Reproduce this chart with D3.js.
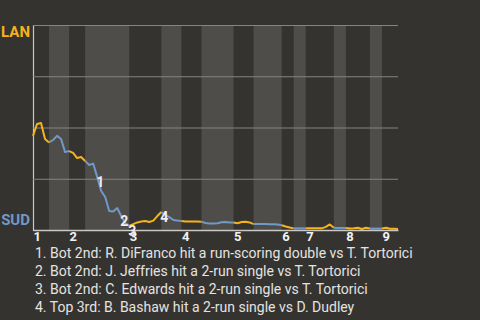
<!DOCTYPE html>
<html>
<head>
<meta charset="utf-8">
<script src="https://cdn.jsdelivr.net/npm/d3@7"></script>
<style>
  html, body { margin: 0; padding: 0; background: #353330; }
  svg { display: block; font-family: Roboto, "Noto Sans", sans-serif; }
</style>
</head>
<body>
<div id="chart"></div>
<script>
// plate appearances in each half inning (top 1st, bot 1st, ... top 9th)
const halfInnings = [4, 5, 4, 11, 8, 5, 5, 8, 5, 7, 3, 3, 7, 3, 6, 3, 4];
const inningLabels = ["1", "2", "3", "4", "5", "6", "7", "8", "9"];
const teams = ["LAN", "SUD"];

// LAN win probability (%) after each plate appearance, game start first
const lanWinPct = [
  45.9, 51.7, 52.2, 44.4, 42.7,
  43.9, 45.9, 44.4, 38.0, 38.5,
  37.6, 35.1, 35.6, 33.7,
  31.7, 32.4, 25.9, 19.0, 16.1, 9.3, 9.0, 10.7, 6.8, 3.4, 2.0,
  2.9, 3.7, 4.1, 4.4, 3.9, 4.6, 6.8, 8.8,
  7.3, 6.3, 4.9, 4.6, 4.4,
  4.1, 4.1, 4.1, 4.1, 4.0,
  3.4, 3.2, 3.2, 3.3, 3.8, 3.9, 3.7, 3.7,
  3.3, 3.9, 4.0, 3.7, 2.9,
  2.9, 2.9, 2.9, 2.8, 2.8, 2.7, 2.3,
  1.7, 1.2, 0.8,
  0.8, 0.8, 0.8,
  0.8, 0.8, 0.8, 0.8, 1.5, 2.7, 1.1,
  1.0, 1.0, 1.0,
  0.7, 0.8, 1.1, 0.5, 1.1, 0.7,
  0.7, 0.7, 0.7,
  1.1, 0.6, 0.6, 0.5
];

// key plays: plate appearance index and description
const noteEvents = [16, 22, 24, 32];
const noteTexts = [
  "Bot 2nd: R. DiFranco hit a run-scoring double vs T. Tortorici",
  "Bot 2nd: J. Jeffries hit a 2-run single vs T. Tortorici",
  "Bot 2nd: C. Edwards hit a 2-run single vs T. Tortorici",
  "Top 3rd: B. Bashaw hit a 2-run single vs D. Dudley"
];

const width = 480, height = 320;
const margin = { top: 25, right: 82, bottom: 90, left: 33 };
const colors = { lan: "#f6b21b", sud: "#7099c8", band: "#4e4d4a", grid: "#86847f", axis: "#c9c8c5", text: "#e4e3e0" };

const total = d3.sum(halfInnings);
const starts = [];
halfInnings.reduce((acc, n) => { starts.push(acc); return acc + n; }, 0);

const svg = d3.select("#chart").append("svg")
  .attr("width", width)
  .attr("height", height);

svg.append("rect").attr("width", width).attr("height", height).attr("fill", "#353330");

const x = d3.scaleLinear().domain([0, total]).range([margin.left, width - margin.right]);
const y = d3.scaleLinear().domain([0, 100]).range([height - margin.bottom, margin.top]);

// shaded bands for bottom halves
svg.append("g").selectAll("rect")
  .data(halfInnings.map((n, i) => ({ s: starts[i], e: starts[i] + n, bottom: i % 2 === 1 })).filter(d => d.bottom))
  .enter().append("rect")
  .attr("x", d => x(d.s))
  .attr("width", d => x(d.e) - x(d.s))
  .attr("y", y(100))
  .attr("height", y(0) - y(100))
  .attr("fill", colors.band);

// gridlines
const yAxis = svg.append("g")
  .attr("transform", `translate(${margin.left},0)`)
  .call(d3.axisLeft(y).tickValues([25, 50, 75, 100]).tickSize(-(width - margin.left - margin.right)).tickFormat(""));
yAxis.select(".domain").attr("stroke", colors.axis).attr("stroke-width", 1.2);
yAxis.selectAll(".tick line").attr("stroke", colors.grid).attr("stroke-width", 1.2);

// win probability line, one path per half inning
const line = d3.line().x(d => x(d.i)).y(d => y(d.v));
halfInnings.forEach((n, h) => {
  const pts = d3.range(starts[h], starts[h] + n + 1).map(i => ({ i, v: lanWinPct[i] }));
  svg.append("path")
    .datum(pts)
    .attr("d", line)
    .attr("fill", "none")
    .attr("stroke", h % 2 === 0 ? colors.lan : colors.sud)
    .attr("stroke-width", 2)
    .attr("stroke-linejoin", "round");
});

// inning axis
const inningStarts = starts.filter((s, i) => i % 2 === 0);
const xAxis = svg.append("g")
  .attr("transform", `translate(0,${y(0)})`)
  .call(d3.axisBottom(x).tickValues(inningStarts).tickSize(0).tickFormat((d, i) => inningLabels[i]));
xAxis.select(".domain").attr("stroke", colors.axis).attr("stroke-width", 1.5);
xAxis.selectAll("text")
  .attr("text-anchor", "start")
  .attr("y", 2)
  .attr("dy", "0.71em")
  .attr("fill", "#f2f2f2")
  .attr("font-size", 13)
  .attr("font-weight", "bold")
  .attr("font-family", "Roboto, sans-serif");

// team labels
svg.append("text")
  .attr("x", margin.left - 3).attr("y", y(100)).attr("dy", "0.78em")
  .attr("text-anchor", "end")
  .attr("fill", colors.lan).attr("font-size", 15).attr("font-weight", "bold")
  .text(teams[0]);
svg.append("text")
  .attr("x", margin.left - 3).attr("y", y(0)).attr("dy", "-0.35em")
  .attr("text-anchor", "end")
  .attr("fill", colors.sud).attr("font-size", 15).attr("font-weight", "bold")
  .text(teams[1]);

// play markers
svg.append("g").selectAll("text")
  .data(noteEvents)
  .enter().append("text")
  .attr("x", d => x(d) + 3)
  .attr("y", d => y(lanWinPct[d]) + 5)
  .attr("dy", "0.35em")
  .attr("text-anchor", "middle")
  .attr("fill", "#eeeeee")
  .attr("font-size", 14)
  .attr("font-weight", "bold")
  .text((d, i) => i + 1);

// play descriptions
svg.append("g").selectAll("text")
  .data(noteTexts)
  .enter().append("text")
  .attr("x", 35)
  .attr("y", (d, i) => 258 + i * 18)
  .attr("fill", colors.text)
  .attr("font-size", 14)
  .text((d, i) => `${i + 1}. ${d}`);
</script>
</body>
</html>
